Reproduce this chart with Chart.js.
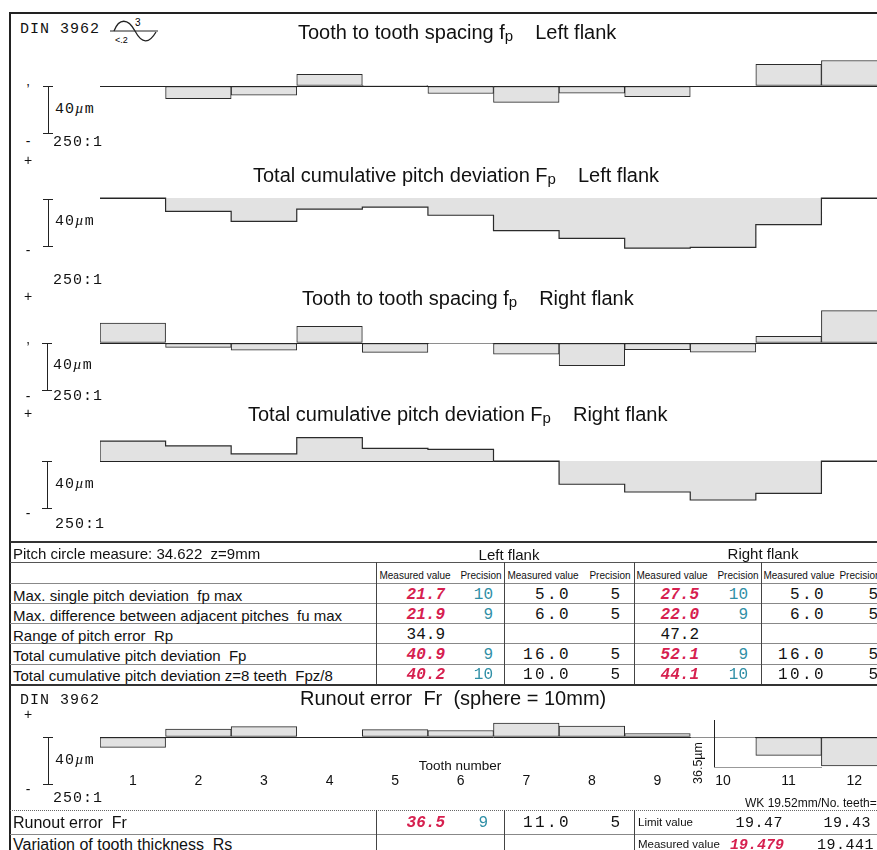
<!DOCTYPE html>
<html>
<head>
<meta charset="utf-8">
<script src="https://cdn.jsdelivr.net/npm/chart.js@4.4.1/dist/chart.umd.min.js"></script>
<style>
body { margin:0; width:877px; height:850px; overflow:hidden; background:#fff; position:relative;
  font-family:"Liberation Sans", Arial, sans-serif; color:#111; }
.t { position:absolute; white-space:nowrap; line-height:1; transform:translate(0,-50%); }
.c { transform:translate(-50%,-50%); }
.r { transform:translate(-100%,-50%); }
.mono { font-family:"Liberation Mono", "Courier New", monospace; font-size:15px; letter-spacing:1px; }
.red { font-family:"Liberation Mono", monospace; font-size:16px; font-weight:bold; font-style:italic; color:#d6204f; }
.teal { font-family:"Liberation Mono", monospace; font-size:16px; color:#2f8fa6; }
.val { font-family:"Liberation Mono", monospace; font-size:16px; letter-spacing:2.4px; }
.hl { position:absolute; height:0; border-top:1px solid #555; }
.vl { position:absolute; width:0; border-left:1px solid #444; }
canvas { position:absolute; }
.sub { font-size:15px; position:relative; top:2px; }
</style>
</head>
<body>
<svg style="position:absolute;left:106px;top:14px" width="56" height="32" viewBox="0 0 56 32">
  <line x1="4" y1="17" x2="52" y2="17" stroke="#222" stroke-width="1"/>
  <path d="M8 17 C 13 4, 22 4, 29 17 S 43 30, 50 18" fill="none" stroke="#222" stroke-width="1.3"/>
  <text x="29" y="12" font-size="10" font-family="Liberation Sans">3</text>
  <text x="9" y="29" font-size="9" font-family="Liberation Sans">&lt;.2</text>
</svg>

<canvas id="c1" width="787" height="141" style="left:100px;top:39px"></canvas>
<canvas id="c2" width="787" height="141" style="left:100px;top:151px"></canvas>
<canvas id="c3" width="787" height="141" style="left:100px;top:296px"></canvas>
<canvas id="c4" width="787" height="141" style="left:100px;top:414px"></canvas>
<canvas id="c5" width="787" height="103" style="left:100px;top:690px"></canvas>

<script>
// tooth numbers
const teeth = ['1', '2', '3', '4', '5', '6', '7', '8', '9', '10', '11', '12']

// deviations in µm
const fpLeft  = [0, -10.8, -7.9, 10.0, 0.5, -6.4, -13.9, -6.2, -9.1, 0, 18.5, 21.7]
const FpLeft  = [0, -11.3, -19.9, -9.4, -7.7, -14.7, -27.8, -34.3, -42.6, -42.0, -22.7, 0]
const fpRight = [17.0, -3.7, -6.0, 14.1, -8.0, -0.6, -9.4, -19.3, -5.7, -7.7, 5.6, 27.5]
const FpRight = [17.0, 12.8, 6.0, 19.9, 10.8, 9.9, 0, -19.8, -26.4, -33.2, -27.5, 0]
const runout  = [-8.8, 6.8, 8.8, 0, 6.3, 5.5, 11.9, 9.4, 3.0, -0.3, -15.6, -24.7]

// table
const rowLabels = [
  'Max. single pitch deviation&nbsp; fp max',
  'Max. difference between adjacent pitches&nbsp; fu max',
  'Range of pitch error&nbsp; Rp',
  'Total cumulative pitch deviation&nbsp; Fp',
  'Total cumulative pitch deviation z=8 teeth&nbsp; Fpz/8'
]
const leftMeasured   = ['21.7', '21.9', '34.9', '40.9', '40.2']
const leftPrecision  = ['10', '9', '', '9', '10']
const rightMeasured  = ['27.5', '22.0', '47.2', '52.1', '44.1']
const rightPrecision = ['10', '9', '', '9', '10']
const tolValue       = ['5.0', '6.0', '', '16.0', '10.0']
const tolPrecision   = ['5', '5', '', '5', '5']
const runoutRow      = ['36.5', '9', '11.0', '5']
const limitValues    = ['19.47', '19.43']
const measuredWk     = ['19.479', '19.441']

const K = 1.175 // px per µm (40µm bar = 47px)

const txt = (x, y, s, cls, style) => {
  const d = document.createElement('div')
  d.className = 't ' + (cls || '')
  d.style.left = x + 'px'
  d.style.top = y + 'px'
  if (style) d.style.cssText += style
  d.innerHTML = s
  document.body.appendChild(d)
}
const hline = (x, y, w, style) => {
  const d = document.createElement('div')
  d.className = 'hl'
  d.style.cssText = `left:${x}px;top:${y}px;width:${w}px;` + (style || '')
  document.body.appendChild(d)
}
const vline = (x, y, h, style) => {
  const d = document.createElement('div')
  d.className = 'vl'
  d.style.cssText = `left:${x}px;top:${y}px;height:${h}px;` + (style || '')
  document.body.appendChild(d)
}
const scaleBar = (x, top, bottom) => {
  vline(x, top, bottom - top, 'border-left:1.3px solid #222')
  hline(x - 5, top, 10, 'border-top:1.3px solid #222')
  hline(x - 5, bottom, 10, 'border-top:1.3px solid #222')
}

// frame
hline(10, 12, 867, 'border-top:2px solid #222')
vline(9, 12, 838, 'border-left:2px solid #222')

// header and titles
txt(20, 29, 'DIN 3962', 'mono')
const gap = '<span style="display:inline-block;width:22px"></span>'
const ts = 'font-size:20px'
txt(298, 32, 'Tooth to tooth spacing f<span class="sub">p</span>' + gap + 'Left flank', '', ts)
txt(253, 175, 'Total cumulative pitch deviation F<span class="sub">p</span>' + gap + 'Left flank', '', ts)
txt(302, 298, 'Tooth to tooth spacing f<span class="sub">p</span>' + gap + 'Right flank', '', ts)
txt(248, 414, 'Total cumulative pitch deviation F<span class="sub">p</span>' + gap + 'Right flank', '', ts)
txt(300, 698, 'Runout error&nbsp; Fr&nbsp; (sphere = 10mm)', '', ts)

// left side scale marks
const um = '40<i style="font-family:\'Liberation Serif\'">µ</i>m'
scaleBar(48, 86, 133)
txt(28, 89, '’', 'c', 'font-size:14px')
txt(55, 109, um, 'mono')
txt(28, 141, '-', 'c', 'font-size:14px')
txt(53, 142, '250:1', 'mono')
txt(28, 160, '+', 'c', 'font-size:14px')

scaleBar(48, 199, 246)
txt(55, 221, um, 'mono')
txt(28, 250, '-', 'c', 'font-size:14px')
txt(53, 280, '250:1', 'mono')
txt(28, 296, '+', 'c', 'font-size:14px')

scaleBar(47, 343, 390)
txt(28, 347, '’', 'c', 'font-size:14px')
txt(53, 365, um, 'mono')
txt(28, 396, '-', 'c', 'font-size:14px')
txt(53, 396, '250:1', 'mono')
txt(28, 413, '+', 'c', 'font-size:14px')

scaleBar(47, 461, 508)
txt(55, 484, um, 'mono')
txt(28, 513, '-', 'c', 'font-size:14px')
txt(55, 524, '250:1', 'mono')

// pitch table
hline(10, 541, 867, 'border-top:2px solid #333')
hline(10, 562, 867)
const rowY = [595, 615, 635, 655, 675]
;[583, 603, 623, 643, 664].forEach(y => hline(10, y, 867, 'border-top-color:#888'))
hline(10, 684, 867, 'border-top:2px solid #333')
;[376, 504, 634, 761].forEach(x => vline(x, 562, 122))
txt(13, 553, 'Pitch circle measure: 34.622&nbsp; z=9mm', '', 'font-size:15px')
txt(509, 554, 'Left flank', 'c', 'font-size:15px')
txt(763, 553, 'Right flank', 'c', 'font-size:15px')
;[[415, 'Measured value'], [481, 'Precision'], [543, 'Measured value'], [610, 'Precision'],
  [672, 'Measured value'], [738, 'Precision'], [799, 'Measured value'], [860, 'Precision']]
  .forEach(([x, s]) => txt(x, 576, s, 'c', 'font-size:10px'))
rowLabels.forEach((s, i) => {
  const y = rowY[i]
  txt(13, y, s, '', 'font-size:15px')
  txt(445, y, leftMeasured[i], 'r ' + (leftPrecision[i] ? 'red' : 'val'), leftPrecision[i] ? '' : 'letter-spacing:0')
  txt(493, y, leftPrecision[i], 'r teal')
  txt(571, y, tolValue[i], 'r val')
  txt(620, y, tolPrecision[i], 'r val', 'letter-spacing:0')
  txt(699, y, rightMeasured[i], 'r ' + (rightPrecision[i] ? 'red' : 'val'), rightPrecision[i] ? '' : 'letter-spacing:0')
  txt(748, y, rightPrecision[i], 'r teal')
  txt(826, y, tolValue[i], 'r val')
  txt(878, y, tolPrecision[i], 'r val', 'letter-spacing:0')
})

// runout section
txt(20, 700, 'DIN 3962', 'mono')
txt(28, 714, '+', 'c', 'font-size:14px')
scaleBar(48, 737, 784)
txt(55, 760, um, 'mono')
txt(28, 789, '-', 'c', 'font-size:14px')
txt(53, 798, '250:1', 'mono')
txt(460, 766, 'Tooth number', 'c', 'font-size:13.5px')
vline(714, 720, 47, 'border-left-color:#222')
hline(714, 767, 108, 'border-top-color:#999')
txt(698, 763, '36.5µm', 'c', 'font-size:12.5px;transform:translate(-50%,-50%) rotate(-90deg)')
txt(745, 803, 'WK 19.52mm/No. teeth=3', '', 'font-size:12px')

hline(10, 810, 867, 'border-top:1px dotted #666')
hline(10, 834, 867, 'border-top-color:#888')
;[376, 504, 634].forEach(x => vline(x, 810, 40))
txt(13, 823, 'Runout error&nbsp; Fr', '', 'font-size:16px')
txt(13, 845, 'Variation of tooth thickness&nbsp; Rs', '', 'font-size:16px')
txt(445, 823, runoutRow[0], 'r red')
txt(488, 823, runoutRow[1], 'r teal')
txt(571, 823, runoutRow[2], 'r val')
txt(620, 823, runoutRow[3], 'r val', 'letter-spacing:0')
txt(638, 823, 'Limit value', '', 'font-size:11.5px')
txt(638, 845, 'Measured value', '', 'font-size:11.5px')
txt(783, 823, limitValues[0], 'r mono', 'font-size:15px;letter-spacing:0.5px')
txt(871, 823, limitValues[1], 'r mono', 'font-size:15px;letter-spacing:0.5px')
txt(784, 845, measuredWk[0], 'r red', 'font-size:15px')
txt(874, 845, measuredWk[1], 'r mono', 'font-size:15px;letter-spacing:0.5px')

// charts
const yScale = (min, max) => ({
  min: min, max: max, z: 1,
  ticks: { display: false, stepSize: 10 },
  grid: {
    drawTicks: false,
    color: ctx => ctx.tick && ctx.tick.value === 0 ? '#222' : 'rgba(0,0,0,0)',
    lineWidth: 1
  },
  border: { display: false }
})
const baseOptions = {
  responsive: false,
  animation: false,
  events: [],
  layout: { padding: 0 },
  plugins: { legend: { display: false }, tooltip: { enabled: false } }
}

// single pitch / runout: one outlined box per tooth
const barChart = (id, values, min, max, showTeeth) => {
  new Chart(document.getElementById(id), {
    type: 'bar',
    data: {
      labels: teeth,
      datasets: [{
        data: values.map(v => [0, v]),
        backgroundColor: '#e2e2e2',
        borderColor: '#2b2b2b',
        borderWidth: 1,
        borderSkipped: false,
        barPercentage: 1,
        categoryPercentage: 1
      }]
    },
    options: {
      ...baseOptions,
      scales: {
        x: {
          display: showTeeth,
          offset: true,
          grid: { display: false, drawTicks: false },
          border: { display: false },
          ticks: { padding: 3, color: '#111', font: { family: 'Liberation Sans', size: 14 } }
        },
        y: yScale(min, max)
      }
    }
  })
}

// cumulative deviation: filled step curve across the teeth
const stepChart = (id, values, min, max) => {
  const pts = [{ x: 0, y: 0 }]
  values.forEach((v, i) => pts.push({ x: i, y: v }))
  pts.push({ x: teeth.length, y: 0 })
  new Chart(document.getElementById(id), {
    type: 'line',
    data: {
      datasets: [{
        data: pts,
        stepped: 'before',
        fill: 'origin',
        backgroundColor: '#e2e2e2',
        borderColor: '#2b2b2b',
        borderWidth: 1.2,
        pointRadius: 0
      }]
    },
    options: {
      ...baseOptions,
      scales: {
        x: { type: 'linear', display: false, min: 0, max: teeth.length },
        y: yScale(min, max)
      }
    }
  })
}

barChart('c1', fpLeft, -80, 40, false)
stepChart('c2', FpLeft, -80, 40)
barChart('c3', fpRight, -80, 40, false)
stepChart('c4', FpRight, -80, 40)
barChart('c5', runout, 40 - 80.2 / K, 40, true)
</script>
</body>
</html>
